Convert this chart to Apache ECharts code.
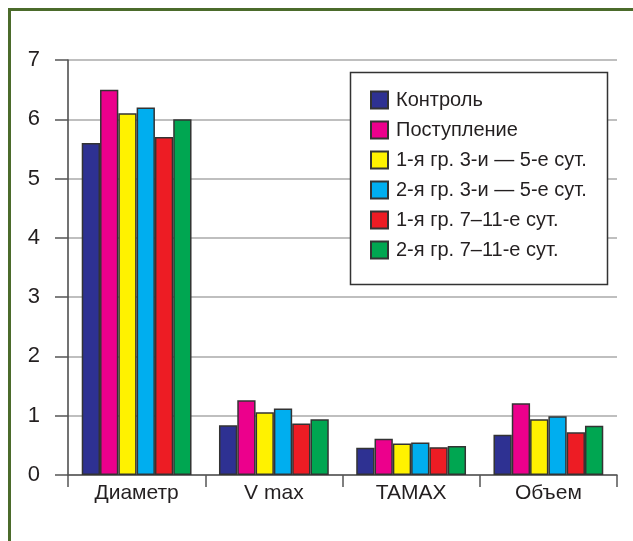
<!DOCTYPE html>
<html>
<head>
<meta charset="utf-8">
<script src="https://cdn.jsdelivr.net/npm/echarts@6/dist/echarts.min.js"></script>
<style>
  html, body { margin: 0; padding: 0; background: #fff; }
  #chart { width: 633px; height: 541px; }
</style>
</head>
<body>
<div id="chart"></div>
<script>
// Categories along the x axis
const categories = ['Диаметр', 'V max', 'TAMAX', 'Объем'];

// Group names (legend order)
const seriesNames = [
  'Контроль',
  'Поступление',
  '1-я гр. 3-и — 5-е сут.',
  '2-я гр. 3-и — 5-е сут.',
  '1-я гр. 7–11-е сут.',
  '2-я гр. 7–11-е сут.'
];

// Values per group, one entry per category
const control      = [5.6, 0.84, 0.46, 0.68];
const admission    = [6.5, 1.26, 0.61, 1.21];
const group1Day3to5 = [6.1, 1.06, 0.53, 0.94];
const group2Day3to5 = [6.2, 1.12, 0.55, 0.99];
const group1Day7to11 = [5.7, 0.87, 0.47, 0.72];
const group2Day7to11 = [6.0, 0.94, 0.49, 0.83];

// Y axis range
const yMin = 0;
const yMax = 7;
const yStep = 1;

const seriesValues = [control, admission, group1Day3to5, group2Day3to5, group1Day7to11, group2Day7to11];
const colors = ['#2e3192', '#ec008c', '#fff200', '#00aeef', '#ed1c24', '#00a651'];

const textColor = '#231f20';
const font = 'Liberation Sans, Arial, sans-serif';

const chart = echarts.init(document.getElementById('chart'), null, { renderer: 'canvas' });

chart.setOption({
  animation: false,
  backgroundColor: '#ffffff',
  grid: { left: 68, right: 16, top: 60, bottom: 66, containLabel: false },
  graphic: [
    {
      type: 'polyline',
      z: 100,
      shape: { points: [[9.5, 541], [9.5, 9.5], [633, 9.5]] },
      style: { stroke: '#4b6b2b', lineWidth: 3, fill: null }
    },
    {
      type: 'rect',
      z: 5,
      shape: { x: 350.5, y: 72.5, width: 257, height: 212 },
      style: { fill: '#ffffff', stroke: '#333333', lineWidth: 1.5 }
    }
  ],
  legend: {
    z: 10,
    orient: 'vertical',
    left: 370,
    top: 90,
    padding: 0,
    itemWidth: 17,
    itemHeight: 17,
    itemGap: 10,
    icon: 'rect',
    data: seriesNames,
    textStyle: { color: textColor, fontFamily: font, fontSize: 20, lineHeight: 17, padding: [0, 0, 0, 3] }
  },
  xAxis: {
    type: 'category',
    data: categories,
    boundaryGap: true,
    axisLine: { show: true, lineStyle: { color: '#555555', width: 1.5 } },
    axisTick: { show: true, interval: 0, length: 12, lineStyle: { color: '#555555', width: 1.5 } },
    axisLabel: { color: textColor, fontFamily: font, fontSize: 21, margin: 8, interval: 0 },
    splitLine: { show: false }
  },
  yAxis: {
    type: 'value',
    min: yMin,
    max: yMax,
    interval: yStep,
    axisLine: { show: true, lineStyle: { color: '#444444', width: 1.5 } },
    axisTick: { show: true, length: 13, lineStyle: { color: '#555555', width: 1.5 } },
    axisLabel: { color: textColor, fontFamily: font, fontSize: 22, margin: 28 },
    splitLine: { show: true, lineStyle: { color: '#aaaaaa', width: 1.5 } }
  },
  series: seriesNames.map((name, i) => ({
    name: name,
    type: 'bar',
    data: seriesValues[i],
    barGap: '0%',
    barCategoryGap: '20%',
    itemStyle: { color: colors[i], borderColor: '#333333', borderWidth: 1.5 }
  }))
});
</script>
</body>
</html>
